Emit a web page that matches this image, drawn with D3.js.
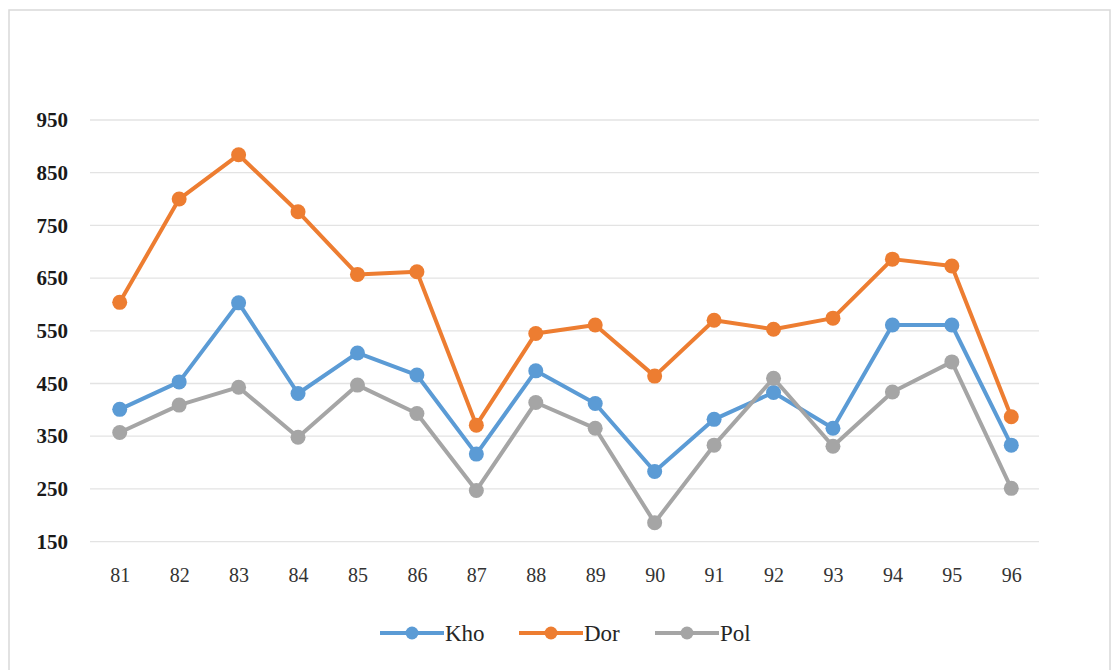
<!DOCTYPE html>
<html><head><meta charset="utf-8">
<script src="https://cdn.jsdelivr.net/npm/d3@7"></script>
<style>body{margin:0;background:#fff}svg{display:block}</style>
</head><body>
<svg id="c" width="1113" height="670"></svg>
<script>
const categories = ["81","82","83","84","85","86","87","88","89","90","91","92","93","94","95","96"];
const kho = [401,453,603,431,508,466,316,474,412,283,382,433,365,561,561,333];
const dor = [604,800,884,776,657,662,371,545,561,464,570,553,574,686,673,387];
const pol = [357,409,443,348,447,393,247,414,365,186,333,460,331,434,491,251];
const yTicks = [150,250,350,450,550,650,750,850,950];
const seriesNames = ["Kho","Dor","Pol"];
const seriesColors = ["#5b9bd5","#ed7d31","#a5a5a5"];
const seriesData = [kho, dor, pol];

const svg = d3.select("#c");
// frame
svg.append("rect").attr("x",9).attr("y",10).attr("width",1101).attr("height",670)
  .attr("fill","#fff").attr("stroke","#d9d9d9").attr("stroke-width",1.5);

const x = d3.scalePoint().domain(categories).range([90,1041]).padding(0.5);
const y = d3.scaleLinear().domain([150,950]).range([541.6,120]);

const grid = svg.append("g");
grid.selectAll("line").data(yTicks).join("line")
  .attr("x1",90).attr("x2",1039).attr("y1",d=>y(d)).attr("y2",d=>y(d))
  .attr("stroke","#e3e3e3").attr("stroke-width",1.3);

const yAxis = svg.append("g").attr("transform","translate(68,0)")
  .call(d3.axisLeft(y).tickValues(yTicks).tickSize(0).tickPadding(0));
yAxis.select(".domain").remove();
yAxis.selectAll("text").attr("font-family","'Liberation Serif','Times New Roman',serif")
  .attr("font-size",21).attr("font-weight","bold").attr("fill","#1a1a1a");

const xAxis = svg.append("g").attr("transform","translate(0,560)")
  .call(d3.axisBottom(x).tickSize(0).tickPadding(8));
xAxis.select(".domain").remove();
xAxis.selectAll("text").attr("font-family","'Liberation Serif','Times New Roman',serif")
  .attr("font-size",20).attr("fill","#333");

const line = d3.line().x((d,i)=>x(categories[i])).y(d=>y(d));
seriesData.forEach((data,k)=>{
  const g = svg.append("g");
  g.append("path").datum(data).attr("d",line).attr("fill","none")
    .attr("stroke",seriesColors[k]).attr("stroke-width",4).attr("stroke-linejoin","round");
  g.selectAll("circle").data(data).join("circle")
    .attr("cx",(d,i)=>x(categories[i])).attr("cy",d=>y(d)).attr("r",7.5)
    .attr("fill",seriesColors[k]);
});

// legend
const legX = [380,519,655];
const leg = svg.append("g");
seriesNames.forEach((n,k)=>{
  const g = leg.append("g").attr("transform",`translate(${legX[k]},633)`);
  g.append("line").attr("x1",0).attr("x2",64).attr("y1",0).attr("y2",0)
    .attr("stroke",seriesColors[k]).attr("stroke-width",4);
  g.append("circle").attr("cx",32).attr("cy",0).attr("r",6.5).attr("fill",seriesColors[k]);
  g.append("text").attr("x",65).attr("y",0).attr("dy","0.35em")
    .attr("font-family","'Liberation Serif','Times New Roman',serif")
    .attr("font-size",23).attr("fill","#262626").text(n);
});
</script>
</body></html>
